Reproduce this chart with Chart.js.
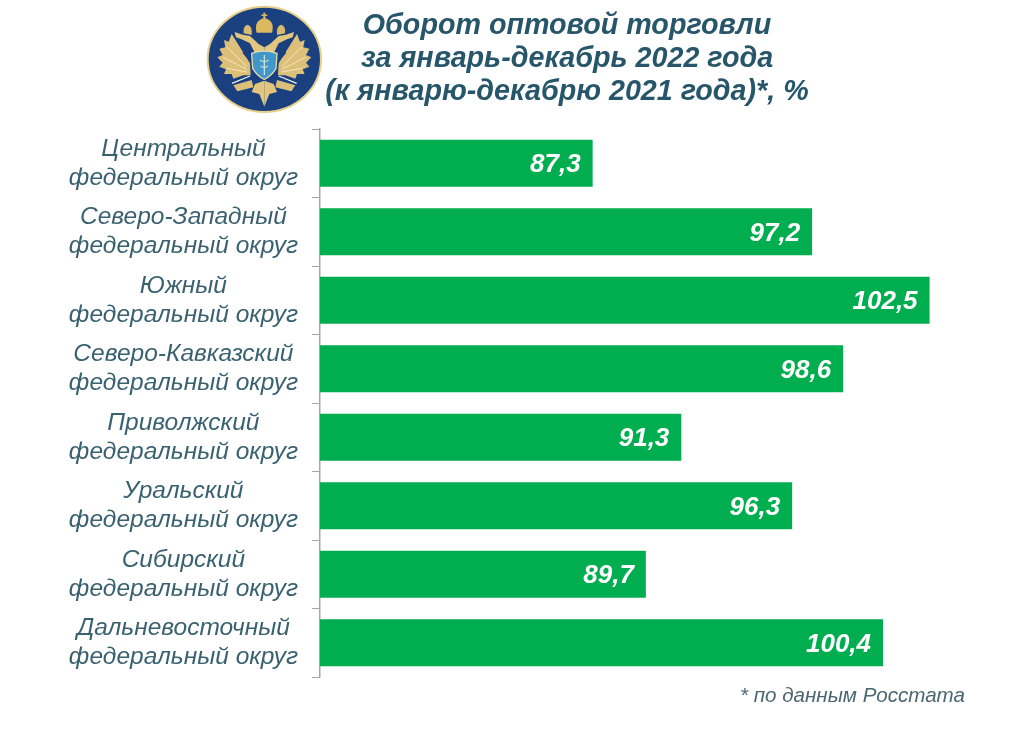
<!DOCTYPE html>
<html>
<head>
<meta charset="utf-8">
<script src="https://cdn.jsdelivr.net/npm/chart.js@4"></script>
<style>
  body { margin: 0; background: #fff; }
  #wrap { position: relative; width: 1024px; height: 735px; }
  #logo { position: absolute; left: 200px; top: 0; }
</style>
</head>
<body>
<div id="wrap">
  <canvas id="tradeChart" width="1024" height="735"></canvas>
  <svg id="logo" width="130" height="118" viewBox="0 0 390 354">
    <defs>
      <g id="halfEagle">
        <!-- wing -->
        <path fill="#dcc07a" d="M150,190 L95,102 L86,125 L72,120 L76,142 L58,146 L68,165 L52,172 L68,188 L58,200 L78,208 L72,222 L95,222 L100,236 L130,226 L152,226 Z"/>
        <!-- feather lines -->
        <path fill="none" stroke="#f3e6bd" stroke-width="3" d="M140,200 L80,140 M140,208 L70,172 M140,216 L80,205"/>
        <!-- neck and head -->
        <path fill="#e2c67f" d="M104,96 L128,104 L150,108 L176,132 L193,142 L193,160 L165,160 L150,130 L125,118 L108,112 Z"/>
        <path fill="#1a4080" d="M135,135 L152,148 L148,182 L128,160 Z"/>
        <!-- small crown -->
        <path fill="#d9b96d" d="M131,100 Q128,78 143,74 Q158,78 155,105 Z"/>
        <!-- leg -->
        <path fill="none" stroke="#eef0e6" stroke-width="4" d="M150,228 L96,250"/>
        <path fill="#dcc07a" d="M155,240 L100,256 L112,274 L160,262 Z"/>
        <!-- tail half -->
        <path fill="#e2c67f" d="M193,242 L165,252 L155,276 L178,282 L193,320 Z"/>
      </g>
    </defs>
    <ellipse cx="193" cy="178" rx="170" ry="158" fill="#1a4080" stroke="#e6d089" stroke-width="6"/>
    <use href="#halfEagle"/>
    <use href="#halfEagle" transform="translate(386,0) scale(-1,1)"/>
    <!-- main crown -->
    <path fill="#dcb860" d="M170,98 Q160,62 193,54 Q226,62 216,98 Z"/>
    <rect x="190" y="38" width="6" height="20" fill="#dcb860"/>
    <rect x="184" y="44" width="18" height="4" fill="#dcb860"/>
    <!-- shield -->
    <path fill="#3f97cc" stroke="#e2d8a8" stroke-width="4" d="M155,160 Q193,146 231,160 L228,205 Q215,228 193,238 Q171,228 158,205 Z"/>
    <path fill="none" stroke="#cfe0d0" stroke-width="4" d="M193,165 L193,225 M180,180 Q193,190 206,180 M182,198 Q193,206 204,198"/>
  </svg>
</div>
<script>
var categories = [
  ['Центральный', 'федеральный округ'],
  ['Северо-Западный', 'федеральный округ'],
  ['Южный', 'федеральный округ'],
  ['Северо-Кавказский', 'федеральный округ'],
  ['Приволжский', 'федеральный округ'],
  ['Уральский', 'федеральный округ'],
  ['Сибирский', 'федеральный округ'],
  ['Дальневосточный', 'федеральный округ'],
];
var values = [87.3, 97.2, 102.5, 98.6, 91.3, 96.3, 89.7, 100.4];
var titleLines = ['Оборот оптовой торговли', 'за январь-декабрь 2022 года', '(к январю-декабрю 2021 года)*, %'];
var footnote = '* по данным Росстата';

var textColor = '#3a6170';

// value labels inside the bar ends, title and footnote
var textPlugin = {
  id: 'textPlugin',
  afterDraw: function (chart) {
    var ctx = chart.ctx;
    var meta = chart.getDatasetMeta(0);
    ctx.save();
    ctx.fillStyle = '#fff';
    ctx.font = 'italic bold 26px "Liberation Sans"';
    ctx.textAlign = 'right';
    ctx.textBaseline = 'middle';
    meta.data.forEach(function (bar, i) {
      ctx.fillText(values[i].toFixed(1).replace('.', ','), bar.x - 12, bar.y + 2);
    });

    ctx.fillStyle = '#27566a';
    ctx.font = 'italic bold 28.7px "Liberation Sans"';
    ctx.textAlign = 'center';
    titleLines.forEach(function (line, i) {
      ctx.fillText(line, 567, 26 + i * 33);
    });

    ctx.fillStyle = '#4a6670';
    ctx.font = 'italic 20.6px "Liberation Sans"';
    ctx.textAlign = 'right';
    ctx.fillText(footnote, 965, 696);
    ctx.restore();
  },
};

var tradeChart = new Chart(document.getElementById('tradeChart'), {
  type: 'bar',
  data: {
    labels: categories,
    datasets: [
      {
        data: values,
        backgroundColor: '#00ae50',
        categoryPercentage: 1,
        barPercentage: 0.685,
      },
    ],
  },
  plugins: [textPlugin],
  options: {
    indexAxis: 'y',
    responsive: false,
    animation: false,
    layout: {
      padding: { top: 129, bottom: 58, right: 39 },
    },
    plugins: {
      legend: { display: false },
      tooltip: { enabled: false },
    },
    scales: {
      x: {
        display: false,
        min: 75,
        max: 105,
      },
      y: {
        afterFit: function (scale) {
          scale.width = 320;
        },
        border: { color: '#a6a6a6', width: 1.5 },
        grid: {
          offset: true,
          drawOnChartArea: false,
          color: '#a6a6a6',
          tickLength: 8,
        },
        ticks: {
          crossAlign: 'center',
          padding: 14,
          color: textColor,
          font: { family: '"Liberation Sans"', size: 24.5, style: 'italic', lineHeight: 1.18 },
        },
      },
    },
  },
});
</script>
</body>
</html>
